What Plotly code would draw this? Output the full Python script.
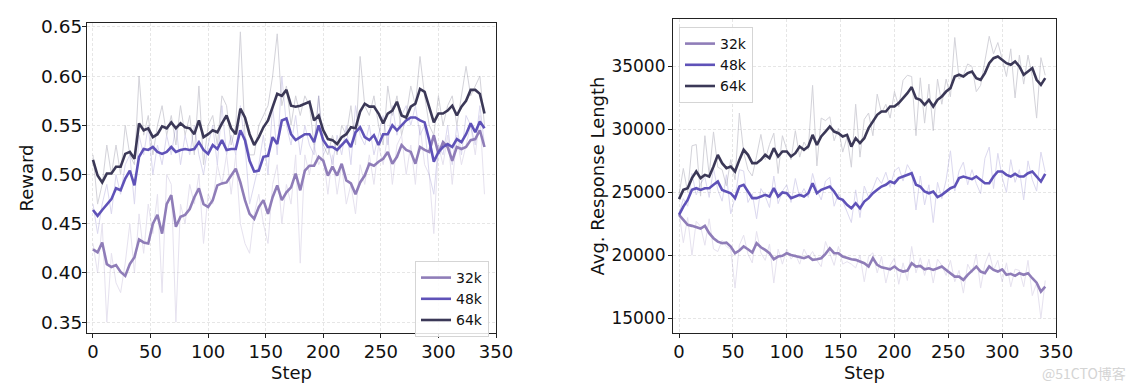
import plotly.graph_objects as go

steps = list(range(0, 341, 4))
labels = ["32k", "48k", "64k"]
colors = ["#8f7db8", "#5f52b8", "#3b3857"]

# Reward (left) - smoothed
reward_32k = [0.424,0.421,0.431,0.409,0.406,0.408,0.401,0.397,0.409,0.416,
              0.434,0.431,0.430,0.450,0.459,0.440,0.470,0.479,0.447,0.457,
              0.459,0.465,0.477,0.486,0.470,0.467,0.474,0.489,0.491,0.492,
              0.499,0.506,0.492,0.474,0.460,0.455,0.467,0.474,0.460,0.477,
              0.489,0.474,0.482,0.487,0.501,0.484,0.504,0.509,0.509,0.518,
              0.514,0.499,0.508,0.499,0.511,0.494,0.491,0.480,0.492,0.499,
              0.511,0.509,0.513,0.516,0.523,0.511,0.518,0.530,0.525,0.523,
              0.511,0.528,0.525,0.523,0.540,0.521,0.533,0.528,0.514,0.528,
              0.526,0.528,0.535,0.536,0.545,0.528]
reward_48k = [0.464,0.458,0.464,0.470,0.475,0.486,0.484,0.496,0.504,0.489,
              0.518,0.526,0.525,0.528,0.523,0.521,0.523,0.528,0.523,0.525,
              0.526,0.525,0.526,0.533,0.525,0.521,0.530,0.526,0.535,0.525,
              0.526,0.526,0.545,0.535,0.514,0.503,0.504,0.518,0.519,0.538,
              0.531,0.555,0.557,0.541,0.535,0.538,0.541,0.541,0.533,0.550,
              0.535,0.528,0.528,0.525,0.530,0.535,0.528,0.543,0.548,0.538,
              0.535,0.540,0.530,0.541,0.541,0.550,0.545,0.550,0.555,0.558,
              0.558,0.555,0.553,0.535,0.513,0.523,0.528,0.531,0.528,0.536,
              0.533,0.541,0.552,0.543,0.554,0.547]
reward_64k = [0.515,0.499,0.492,0.501,0.501,0.508,0.508,0.521,0.523,0.516,
              0.552,0.545,0.547,0.538,0.541,0.549,0.547,0.553,0.547,0.552,
              0.548,0.547,0.541,0.555,0.538,0.541,0.545,0.543,0.552,0.560,
              0.547,0.541,0.567,0.558,0.541,0.530,0.538,0.548,0.555,0.569,
              0.582,0.580,0.586,0.570,0.569,0.570,0.572,0.574,0.555,0.560,
              0.545,0.536,0.535,0.531,0.538,0.541,0.548,0.547,0.564,0.572,
              0.569,0.569,0.562,0.552,0.562,0.565,0.574,0.560,0.558,0.569,
              0.572,0.587,0.584,0.569,0.553,0.562,0.562,0.565,0.570,0.560,
              0.569,0.575,0.586,0.586,0.582,0.562]

# Reward (left) - raw
reward_32k_raw = [0.43,0.40,0.45,0.35,0.42,0.39,0.38,0.41,0.45,0.40,
                  0.46,0.42,0.47,0.44,0.48,0.38,0.50,0.49,0.35,0.47,
                  0.45,0.49,0.47,0.50,0.43,0.48,0.47,0.51,0.49,0.52,
                  0.48,0.52,0.45,0.43,0.42,0.46,0.48,0.45,0.43,0.49,
                  0.51,0.45,0.49,0.47,0.52,0.41,0.52,0.50,0.53,0.51,
                  0.52,0.48,0.52,0.48,0.51,0.47,0.49,0.46,0.51,0.49,
                  0.52,0.49,0.53,0.51,0.54,0.49,0.53,0.54,0.50,0.53,
                  0.49,0.55,0.51,0.50,0.44,0.53,0.51,0.54,0.49,0.54,
                  0.51,0.53,0.55,0.52,0.56,0.48]
reward_48k_raw = [0.47,0.44,0.47,0.49,0.46,0.50,0.48,0.51,0.52,0.47,
                  0.54,0.52,0.55,0.50,0.53,0.51,0.54,0.52,0.55,0.51,
                  0.54,0.52,0.55,0.52,0.50,0.53,0.55,0.51,0.57,0.52,
                  0.54,0.52,0.57,0.53,0.47,0.49,0.51,0.54,0.50,0.57,
                  0.52,0.60,0.55,0.53,0.56,0.52,0.55,0.53,0.52,0.58,
                  0.52,0.53,0.51,0.54,0.52,0.55,0.51,0.57,0.54,0.53,
                  0.55,0.52,0.54,0.56,0.53,0.57,0.54,0.56,0.57,0.55,
                  0.57,0.54,0.55,0.50,0.48,0.53,0.52,0.55,0.51,0.55,
                  0.52,0.56,0.55,0.53,0.57,0.53]
reward_64k_raw = [0.52,0.47,0.49,0.53,0.50,0.53,0.50,0.55,0.52,0.51,
                  0.60,0.54,0.56,0.52,0.55,0.57,0.54,0.56,0.53,0.57,
                  0.54,0.56,0.52,0.59,0.51,0.55,0.56,0.53,0.58,0.57,
                  0.53,0.55,0.645,0.54,0.52,0.52,0.55,0.56,0.57,0.60,
                  0.643,0.57,0.59,0.55,0.58,0.56,0.58,0.57,0.53,0.58,
                  0.53,0.52,0.54,0.52,0.55,0.54,0.57,0.53,0.62,0.57,
                  0.56,0.58,0.55,0.53,0.59,0.56,0.58,0.54,0.56,0.59,
                  0.57,0.62,0.58,0.55,0.54,0.58,0.55,0.57,0.58,0.55,
                  0.58,0.61,0.58,0.59,0.60,0.55]

# Response length (right) - smoothed
length_32k = [23210,22820,22420,22340,22230,22130,22340,21760,21360,21090,
              20960,21010,20700,20170,20380,20700,20480,20220,20960,20640,
              20430,20170,19690,19900,19960,20170,20030,19960,19900,19770,
              19900,19640,19690,19770,20120,20560,20170,20170,19900,19770,
              19690,19640,19500,19370,19110,19770,19240,19050,18970,18890,
              19110,18840,18710,18790,19370,19110,19160,18890,18970,18840,
              18970,19110,18840,18580,18310,18310,18050,18450,18790,19110,
              18710,18580,19110,18840,18710,18890,18450,18530,18370,18580,
              18450,18580,18180,17830,17120,17520]
length_48k = [23210,23870,24400,25200,25330,25200,25330,25330,25600,25860,
              25200,25070,24930,24540,25460,25600,25070,24540,24540,24670,
              24800,24670,25330,24670,24990,24930,24540,24670,24800,24670,
              24930,25730,24930,25200,25330,25460,25070,24540,24400,24010,
              23740,24140,23740,24270,24540,24930,25200,25460,25600,25860,
              25730,26130,26260,26390,26520,25600,25460,25070,24930,25070,
              24620,24800,25070,25330,25460,26130,26260,26130,26050,26260,
              25990,25730,25730,26260,26660,26660,26390,26260,26470,26260,
              26260,26520,26660,26260,25860,26470]
length_64k = [24460,25200,25330,26130,26660,26130,26390,26260,27050,27980,
              27320,26920,27050,26660,27580,28380,27980,27320,27320,27580,
              27980,27720,28510,27850,28250,28250,27850,28110,28640,28380,
              28640,29570,28770,29440,29830,30230,29830,29700,29440,29570,
              28640,29300,28910,29300,30100,30630,31160,31420,31420,31820,
              31820,32090,32480,32880,33360,32480,32350,31950,32350,31820,
              32350,32620,33010,33280,34200,34340,34200,34470,34600,34070,
              33940,34470,35260,35660,35790,35530,35260,35130,35400,35000,
              34340,34600,34870,33940,33540,34070]

# Response length (right) - raw
length_32k_raw = [23400,21000,23000,20000,22700,22300,20800,22900,20500,20300,
                  21200,20700,20500,17400,20800,21600,20100,19400,21900,20200,
                  19600,20900,17800,20500,19300,20500,19700,20100,19300,20500,
                  19800,20300,19600,19100,21100,20100,19200,20700,19300,19500,
                  19300,19000,20000,17900,19900,20200,18600,19900,17800,19200,
                  19800,17700,19400,18000,20700,18600,19800,18400,19700,17800,
                  19700,19200,18400,19600,17900,18800,17000,19300,18600,20100,
                  17400,19300,20200,18800,19600,17900,19400,17500,18900,18800,
                  17500,19600,16800,17800,15000,18000]
length_48k_raw = [23300,24500,23900,26500,24800,25700,26200,24600,26900,25200,
                  24300,26400,23300,24600,26800,26700,24200,24900,22900,25300,
                  24700,23800,26300,24100,25100,25600,24200,26100,24600,25300,
                  24600,26500,25200,24400,25900,26200,23900,24900,24300,23500,
                  22600,25200,23000,25500,24600,25300,26200,25700,26600,25400,
                  26700,27000,25900,27200,26600,23600,26300,24000,25600,22600,
                  25800,24500,26000,28300,25100,26700,27400,25600,26800,25700,
                  24900,27700,28600,25300,28100,26200,25000,27600,25800,26800,
                  24400,27500,26000,25100,28200,26600]
length_64k_raw = [24800,26900,25000,28700,28800,24700,29500,26400,29800,27000,
                  26800,25500,27600,26000,31300,28200,26800,26300,27900,29600,
                  27600,28800,29700,26500,29500,28400,27600,29900,27800,29000,
                  28400,33500,27100,30900,30700,31000,29100,30100,28200,29400,
                  27000,32000,27800,30800,31300,29500,32800,31300,32000,30900,
                  33000,31800,33900,34300,34200,29500,34100,30500,33600,29900,
                  34000,32000,34000,32600,37300,34000,34300,35200,35000,33000,
                  33500,35600,37400,36000,36900,35600,34200,36400,32500,35900,
                  33600,35900,34200,30900,35700,34300]

left_smooth = [reward_32k, reward_48k, reward_64k]
left_raw = [reward_32k_raw, reward_48k_raw, reward_64k_raw]
right_smooth = [length_32k, length_48k, length_64k]
right_raw = [length_32k_raw, length_48k_raw, length_64k_raw]

fig = go.Figure()

for i in range(3):
    fig.add_trace(go.Scatter(x=steps, y=left_raw[i], mode="lines",
                             line=dict(color=colors[i], width=1), opacity=0.22,
                             showlegend=False, hoverinfo="skip", xaxis="x", yaxis="y"))
for i in range(3):
    fig.add_trace(go.Scatter(x=steps, y=right_raw[i], mode="lines",
                             line=dict(color=colors[i], width=1), opacity=0.22,
                             showlegend=False, hoverinfo="skip", xaxis="x2", yaxis="y2"))
for i in range(3):
    fig.add_trace(go.Scatter(x=steps, y=left_smooth[i], mode="lines", name=labels[i],
                             line=dict(color=colors[i], width=2.6),
                             legend="legend", xaxis="x", yaxis="y"))
for i in range(3):
    fig.add_trace(go.Scatter(x=steps, y=right_smooth[i], mode="lines", name=labels[i],
                             line=dict(color=colors[i], width=2.6),
                             legend="legend2", xaxis="x2", yaxis="y2"))

W, H = 1135, 386
axis_common = dict(showline=True, linecolor="#222", linewidth=1.2, mirror=True,
                   ticks="outside", ticklen=4, tickcolor="#222", automargin=False,
                   showgrid=True, gridcolor="#e6e6e6", griddash="3px,2px", gridwidth=1,
                   zeroline=False)

fig.update_layout(
    width=W, height=H,
    margin=dict(l=0, r=0, t=0, b=0),
    paper_bgcolor="white", plot_bgcolor="white",
    font=dict(family="DejaVu Sans", color="#111"),
    xaxis=dict(domain=[87/W, 496/W], range=[-5.2, 350], tickvals=[0,50,100,150,200,250,300,350],
               ticklabelstandoff=-2, tickfont=dict(size=18, color="#111"),
               anchor="y", title=dict(text="Step", font=dict(size=18), standoff=0), **axis_common),
    yaxis=dict(domain=[(H-333)/H, (H-23)/H], range=[0.339, 0.654],
               tickvals=[0.35,0.40,0.45,0.50,0.55,0.60,0.65], tickformat=".2f",
               ticklabelstandoff=-4, tickfont=dict(size=18.5, color="#111"),
               anchor="x", title=dict(text="Reward", font=dict(size=18), standoff=2), **axis_common),
    xaxis2=dict(domain=[673/W, 1056/W], range=[-5.6, 350], tickvals=[0,50,100,150,200,250,300,350],
                ticklabelstandoff=-2, tickfont=dict(size=18, color="#111"),
                anchor="y2", title=dict(text="Step", font=dict(size=18), standoff=0), **axis_common),
    yaxis2=dict(domain=[(H-333)/H, (H-19)/H], range=[13830, 38770],
                tickvals=[15000,20000,25000,30000,35000], tickformat="d",
                ticklabelstandoff=-1, tickfont=dict(size=17, color="#111"),
                anchor="x2", title=dict(text="Avg. Response Length", font=dict(size=18), standoff=2), **axis_common),
    legend=dict(x=489/W, y=(H-261)/H, xanchor="right", yanchor="top",
                bgcolor="rgba(255,255,255,0.85)", bordercolor="#d5d5d5", borderwidth=1,
                font=dict(size=14, color="#111"), itemwidth=30, tracegroupgap=0),
    legend2=dict(x=679/W, y=(H-27)/H, xanchor="left", yanchor="top",
                 bgcolor="rgba(255,255,255,0.85)", bordercolor="#d5d5d5", borderwidth=1,
                 font=dict(size=14, color="#111"), itemwidth=30, tracegroupgap=0),
    annotations=[dict(text="@51CTO博客", x=1128/W, y=(H-373)/H, xref="paper", yref="paper",
                      xanchor="right", yanchor="middle", showarrow=False,
                      font=dict(size=14, color="#d4d4d4", family="Noto Sans CJK SC"))],
)

fig.write_html("out.html", config={"displayModeBar": False},
               post_script="document.body.style.margin='0';document.body.style.overflow='hidden';")
